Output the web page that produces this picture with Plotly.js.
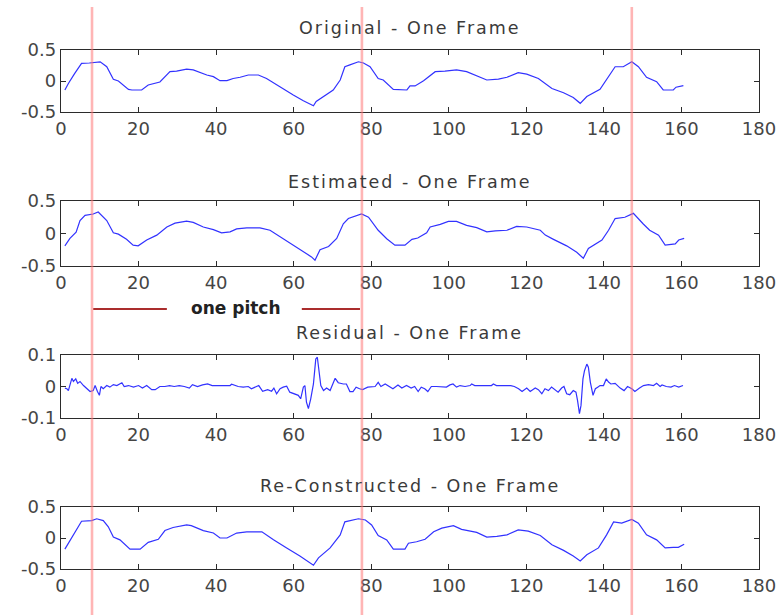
<!DOCTYPE html>
<html>
<head>
<meta charset="utf-8">
<script src="https://cdn.plot.ly/plotly-3.0.1.min.js"></script>
<style>
html,body{margin:0;padding:0;background:#fff;}
#chart{width:783px;height:615px;}
g.annotation:not([data-index="4"]) text.annotation-text{letter-spacing:2px;}
</style>
</head>
<body>
<div id="chart"></div>
<script>
// ---------- data ----------
const origX = [1.0,1.9,3.5,5.3,7.3,10.1,11.8,13.5,14.8,17.4,18.3,20.8,22.5,25.5,28.1,29.8,32.4,34.1,37.6,39.3,41.0,42.8,44.4,46.2,48.3,50.9,53.0,56.5,59.9,62.5,65.1,65.8,67.7,70.2,72.0,73.2,74.5,76.7,78.0,79.7,81.8,83.1,85.7,89.2,90.0,91.3,93.5,96.5,99.0,102.0,104.6,107.2,109.8,112.8,115.0,117.9,120.1,123.1,126.6,129.6,132.1,133.9,135.6,139.0,141.2,142.9,145.0,147.2,148.9,151.0,153.6,155.3,157.9,158.6,160.5];
const origY = [-0.145,-0.04,0.12,0.285,0.29,0.31,0.23,0.027,0.0,-0.135,-0.145,-0.145,-0.065,-0.016,0.15,0.16,0.19,0.18,0.097,0.07,0.005,0.005,0.04,0.06,0.097,0.097,0.04,-0.10,-0.226,-0.32,-0.40,-0.33,-0.25,-0.145,0.016,0.23,0.26,0.31,0.29,0.23,0.04,0.016,-0.135,-0.145,-0.08,-0.08,0.005,0.15,0.16,0.18,0.15,0.08,0.016,0.03,0.06,0.135,0.11,0.04,-0.12,-0.19,-0.265,-0.36,-0.25,-0.135,0.07,0.23,0.23,0.31,0.23,0.06,-0.01,-0.145,-0.145,-0.10,-0.075];

const estX = [1.0,2.3,3.9,4.9,6.2,8.3,9.6,11.8,13.5,14.8,16.9,18.6,19.9,22.1,24.7,27.3,29.4,32.4,34.1,36.7,39.3,41.4,43.6,45.3,47.9,51.3,53.9,56.5,59.9,62.5,64.6,65.5,66.8,69.0,71.1,72.8,74.1,77.5,79.3,81.8,83.1,84.0,86.1,88.7,90.5,92.0,94.3,95.2,97.8,99.9,102.0,104.6,107.2,109.8,112.0,115.0,117.5,120.1,123.6,124.9,127.0,130.4,133.0,134.7,136.0,139.5,141.2,142.9,145.4,147.6,150.1,151.8,154.1,155.8,158.4,159.3,160.7];
const estY = [-0.19,-0.076,0.02,0.2,0.28,0.30,0.33,0.2,0.01,-0.01,-0.09,-0.18,-0.19,-0.1,-0.025,0.1,0.16,0.19,0.17,0.1,0.06,0.01,0.025,0.07,0.085,0.085,0.05,-0.05,-0.19,-0.29,-0.36,-0.41,-0.25,-0.2,-0.076,0.15,0.23,0.30,0.25,0.05,-0.03,-0.08,-0.18,-0.18,-0.09,-0.07,0.01,0.1,0.14,0.185,0.185,0.125,0.09,0.025,0.04,0.05,0.11,0.1,0.05,-0.025,-0.09,-0.19,-0.29,-0.38,-0.23,-0.1,0.05,0.23,0.25,0.31,0.15,0.05,-0.025,-0.18,-0.16,-0.1,-0.075];

const resX = [1.0,1.5,1.9,2.3,2.8,3.2,3.8,4.3,4.9,5.8,6.6,7.5,8.3,8.8,9.4,9.9,10.3,10.9,11.8,12.6,13.5,14.4,15.7,16.3,17.4,18.7,20.0,21.0,22.1,23.4,24.3,25.5,26.8,28.0,29.2,30.5,31.8,33.1,33.9,35.2,36.5,37.8,39.0,43.6,44.0,45.7,47.0,48.3,49.1,50.1,51.0,52.0,53.3,54.3,54.9,55.6,56.5,57.3,58.2,59.0,60.3,61.2,61.8,62.5,62.9,63.3,63.8,64.4,65.1,65.7,66.1,66.6,67.0,67.7,68.5,69.4,70.0,70.7,71.5,72.8,73.6,74.5,75.3,76.1,77.0,77.8,79.1,81.0,81.8,82.5,83.6,84.6,85.6,86.9,87.9,89.1,90.3,91.2,92.1,92.9,93.8,94.6,95.5,96.8,98.1,99.4,100.3,101.1,102.0,102.9,104.2,105.5,105.9,106.7,111.0,111.5,112.3,116.0,116.9,118.0,118.9,119.7,120.1,121.0,122.3,123.1,124.0,124.8,125.7,126.5,127.4,128.2,129.1,129.7,130.4,131.2,132.1,132.8,133.2,133.7,134.1,134.6,135.0,135.6,136.0,136.5,137.2,137.8,138.4,139.0,139.9,140.6,141.2,141.8,142.9,144.2,145.2,146.1,147.2,148.0,149.2,150.2,151.5,152.8,153.6,154.5,155.0,156.1,157.3,158.2,159.3,160.4];
const resY = [-0.005,-0.007,-0.013,0.008,0.026,0.016,0.024,0.01,0.016,0.003,-0.007,-0.016,-0.013,0.003,-0.016,-0.028,0,-0.007,0.003,-0.002,0.006,0.003,0.012,0,0.003,-0.002,0.003,-0.005,0.003,-0.01,-0.01,0,0,0.003,0,0.003,0,-0.005,0.006,0,0.005,0.008,0.003,0.003,0.007,0,-0.002,0,-0.007,-0.002,0.003,-0.015,-0.01,-0.015,-0.005,-0.023,-0.007,-0.002,0.001,-0.018,-0.023,-0.028,-0.039,-0.002,0.003,-0.05,-0.07,-0.039,0.008,0.087,0.093,0.05,0.003,-0.013,-0.005,-0.013,0.008,0.026,0.012,0.008,0.008,-0.016,-0.016,-0.002,-0.007,-0.01,-0.002,0,0.013,0,0.008,0,-0.007,0.005,-0.005,0.003,-0.005,0,-0.016,-0.002,-0.007,-0.016,0,0,-0.002,-0.002,0.005,0.008,-0.002,0.003,0,0.003,0.008,0.003,0.003,0.008,0.003,0.003,0,-0.007,-0.016,-0.007,-0.005,-0.016,-0.005,-0.01,-0.023,-0.007,-0.013,-0.002,-0.01,-0.018,-0.005,0,-0.023,-0.026,-0.013,-0.018,-0.044,-0.086,-0.06,0.024,0.05,0.071,0.061,0.014,-0.028,-0.007,-0.002,0.003,0.003,0.024,0.014,0.008,0.01,-0.005,-0.013,0,-0.007,-0.016,-0.005,0.003,0.006,0.003,0.01,0,0.005,0,-0.002,0.003,-0.002,0.003];

const recX = [1.0,2.8,5.3,7.9,9.2,10.9,12.2,13.5,15.2,17.8,20.4,22.5,25.1,26.8,28.9,32.4,33.6,36.7,39.3,41.0,42.8,45.3,47.9,51.8,54.8,58.2,61.6,65.1,66.4,69.4,72.0,73.2,74.5,76.7,78.5,80.1,81.8,84.0,85.7,88.7,89.6,91.7,93.9,96.1,98.2,101.2,103.3,107.2,109.8,112.4,115.0,117.9,120.5,123.6,126.6,129.6,132.1,133.9,135.6,138.6,140.7,142.5,144.6,147.2,148.9,151.0,153.6,155.8,157.9,159.2,160.7];
const recY = [-0.18,0.0,0.27,0.28,0.31,0.28,0.18,0.015,-0.03,-0.18,-0.18,-0.07,-0.02,0.12,0.17,0.21,0.2,0.12,0.08,0.0,0.0,0.08,0.1,0.1,-0.03,-0.16,-0.29,-0.44,-0.32,-0.16,0.05,0.26,0.28,0.31,0.29,0.21,0.04,-0.03,-0.18,-0.18,-0.085,-0.06,-0.02,0.1,0.16,0.2,0.14,0.09,0.015,0.025,0.05,0.13,0.11,0.04,-0.11,-0.2,-0.29,-0.37,-0.27,-0.16,0.05,0.26,0.24,0.30,0.24,0.05,-0.03,-0.16,-0.15,-0.15,-0.10];

const panelTitles = ["Original - One Frame","Estimated - One Frame","Residual - One Frame","Re-Constructed - One Frame"];
const xTickVals = [0,20,40,60,80,100,120,140,160,180];
const xTickText = ["0","20","40","60","80","100","120","140","160","180"];
const sigTickVals = [-0.5,0,0.5];
const sigTickText = ["-0.5","0","0.5"];
const resTickVals = [-0.1,0,0.1];
const resTickText = ["-0.1","0","0.1"];
const pitchMarks = [8.0,77.6,147.2];     // pitch-period markers (sample index)
const pitchLabel = "one pitch";

// ---------- layout geometry ----------
const W = 783, H = 615;
const xDom = [61/W, 759/W];
const yDoms = [[1-112/H,1-50/H],[1-266/H,1-201/H],[1-418/H,1-355/H],[1-569/H,1-507/H]];
const titleY = [1-28/H, 1-181.5/H, 1-333/H, 1-486/H];

const series = [[origX,origY],[estX,estY],[resX,resY],[recX,recY]];
const traces = series.map((s,i)=>({
  x:s[0], y:s[1], type:'scatter', mode:'lines',
  xaxis: i===0?'x':'x'+(i+1), yaxis: i===0?'y':'y'+(i+1),
  line:{color:'rgb(50,50,255)', width:1.2}, hoverinfo:'skip', showlegend:false
}));

const tickFont = {family:'DejaVu Sans, sans-serif', size:18, color:'#454545'};
const axCommon = {showline:true, mirror:'ticks', linecolor:'#2b2b2b', linewidth:1.3,
  ticks:'inside', ticklen:5, tickwidth:1, tickcolor:'#2b2b2b', showgrid:false,
  zeroline:false, tickfont:tickFont, fixedrange:true};

const layout = {width:W, height:H, margin:{l:0,r:0,t:0,b:0},
  paper_bgcolor:'#fff', plot_bgcolor:'#fff', showlegend:false,
  shapes:[], annotations:[]};

for(let i=0;i<4;i++){
  const xs = i===0?'xaxis':'xaxis'+(i+1);
  const ys = i===0?'yaxis':'yaxis'+(i+1);
  const yn = i===0?'y':'y'+(i+1);
  const xn = i===0?'x':'x'+(i+1);
  layout[xs] = Object.assign({}, axCommon, {domain:xDom, anchor:yn, range:[0,180],
    tickmode:'array', tickvals:xTickVals, ticktext:xTickText});
  const isRes = i===2;
  layout[ys] = Object.assign({}, axCommon, {domain:yDoms[i], anchor:xn,
    range: isRes?[-0.1,0.1]:[-0.5,0.5], tickmode:'array',
    tickvals: isRes?resTickVals:sigTickVals, ticktext: isRes?resTickText:sigTickText});
  layout.annotations.push({text:panelTitles[i], xref:'paper', yref:'paper',
    x:(xDom[0]+xDom[1])/2, y:titleY[i], xanchor:'center', yanchor:'middle',
    showarrow:false, font:{family:'DejaVu Sans, sans-serif', size:17.5, color:'#3a3a3a'}});
}
// "one pitch" label
layout.annotations.push({text:pitchLabel, xref:'x', yref:'paper', x:45.0, y:1-308/H,
  xanchor:'center', yanchor:'middle', showarrow:false,
  font:{family:'DejaVu Sans, sans-serif', size:17, color:'#222', weight:'bold'}});

// bracket lines for "one pitch"
const bracket = [[8.3,27.3],[62.1,77.1]];
bracket.forEach(b=>layout.shapes.push({type:'line', xref:'x', yref:'paper',
  x0:b[0], x1:b[1], y0:1-309/H, y1:1-309/H, line:{color:'rgb(170,45,45)', width:1.8}}));
// vertical pitch markers spanning the figure
pitchMarks.forEach(m=>layout.shapes.push({type:'line', xref:'x', yref:'paper',
  x0:m, x1:m, y0:0, y1:1-7/H, layer:'above',
  line:{color:'rgba(255,120,120,0.55)', width:2.6}}));

Plotly.newPlot('chart', traces, layout, {displayModeBar:false, staticPlot:true});
</script>
</body>
</html>
